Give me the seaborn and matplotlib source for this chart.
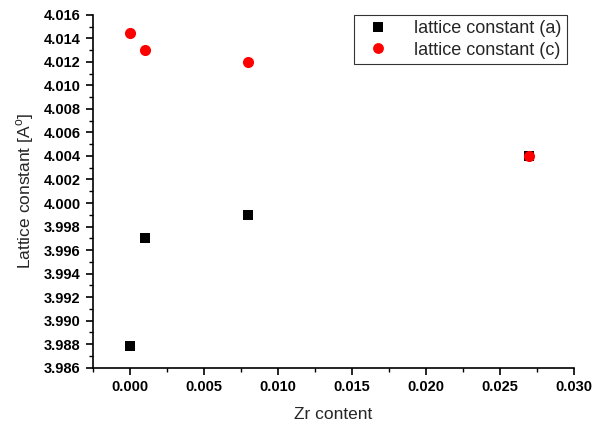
import numpy as np
import pandas as pd
import matplotlib
matplotlib.use('Agg')
import matplotlib.pyplot as plt
from matplotlib.ticker import MultipleLocator
from matplotlib.lines import Line2D
import seaborn as sns

# data
zr = [0.000, 0.001, 0.008, 0.027]
lat_a = [3.9878, 3.9970, 3.9990, 4.0040]
lat_c = [4.0145, 4.0130, 4.0120, 4.0040]

sns.set_style('ticks')
plt.rcParams['font.family'] = ['Liberation Sans', 'DejaVu Sans']
plt.rcParams['mathtext.fontset'] = 'custom'
plt.rcParams['mathtext.rm'] = 'Liberation Sans'

fig = plt.figure(figsize=(6.04, 4.25), dpi=100)
ax = fig.add_axes([0.154, 0.135, 0.796, 0.830])

sns.scatterplot(x=zr, y=lat_a, marker='s', s=46, color='black', edgecolor='black',
                linewidth=0, ax=ax)
sns.scatterplot(x=zr, y=lat_c, marker='o', s=64, color='red', edgecolor='red',
                linewidth=0, ax=ax)

ax.set_xlim(-0.0025, 0.030)
ax.set_ylim(3.986, 4.016)
ax.xaxis.set_major_locator(MultipleLocator(0.005))
ax.xaxis.set_minor_locator(MultipleLocator(0.0025))
ax.yaxis.set_major_locator(MultipleLocator(0.002))
ax.yaxis.set_minor_locator(MultipleLocator(0.001))
ax.xaxis.set_major_formatter(plt.FormatStrFormatter('%.3f'))
ax.yaxis.set_major_formatter(plt.FormatStrFormatter('%.3f'))

sns.despine(ax=ax)
for sp in ['left', 'bottom']:
    ax.spines[sp].set_linewidth(1.2)
    ax.spines[sp].set_color('black')
ax.tick_params(which='major', direction='out', length=5, width=1.2, colors='black',
               labelsize=10.5, pad=4)
ax.tick_params(which='minor', direction='out', length=3, width=1.0, colors='black')
for lab in ax.get_xticklabels() + ax.get_yticklabels():
    lab.set_fontweight('bold')

ax.set_xlabel('Zr content', fontsize=12.5, labelpad=9)
ax.set_ylabel('Lattice constant [A$^{\\mathrm{o}}$]', fontsize=12.5, labelpad=5)

handles = [Line2D([], [], ls='none', marker='s', ms=6.5, mfc='black', mec='black', mew=0),
           Line2D([], [], ls='none', marker='o', ms=7.8, mfc='red', mec='red', mew=0)]
leg = ax.legend(handles, ['lattice constant (a)', 'lattice constant (c)'],
                loc='upper right', bbox_to_anchor=(0.985, 1.0), fontsize=13,
                frameon=True, fancybox=False, edgecolor='black', borderpad=0.3,
                handletextpad=1.0, labelspacing=0.25, borderaxespad=0)
leg.get_frame().set_linewidth(0.8)

fig.savefig('out.png', dpi=100)
